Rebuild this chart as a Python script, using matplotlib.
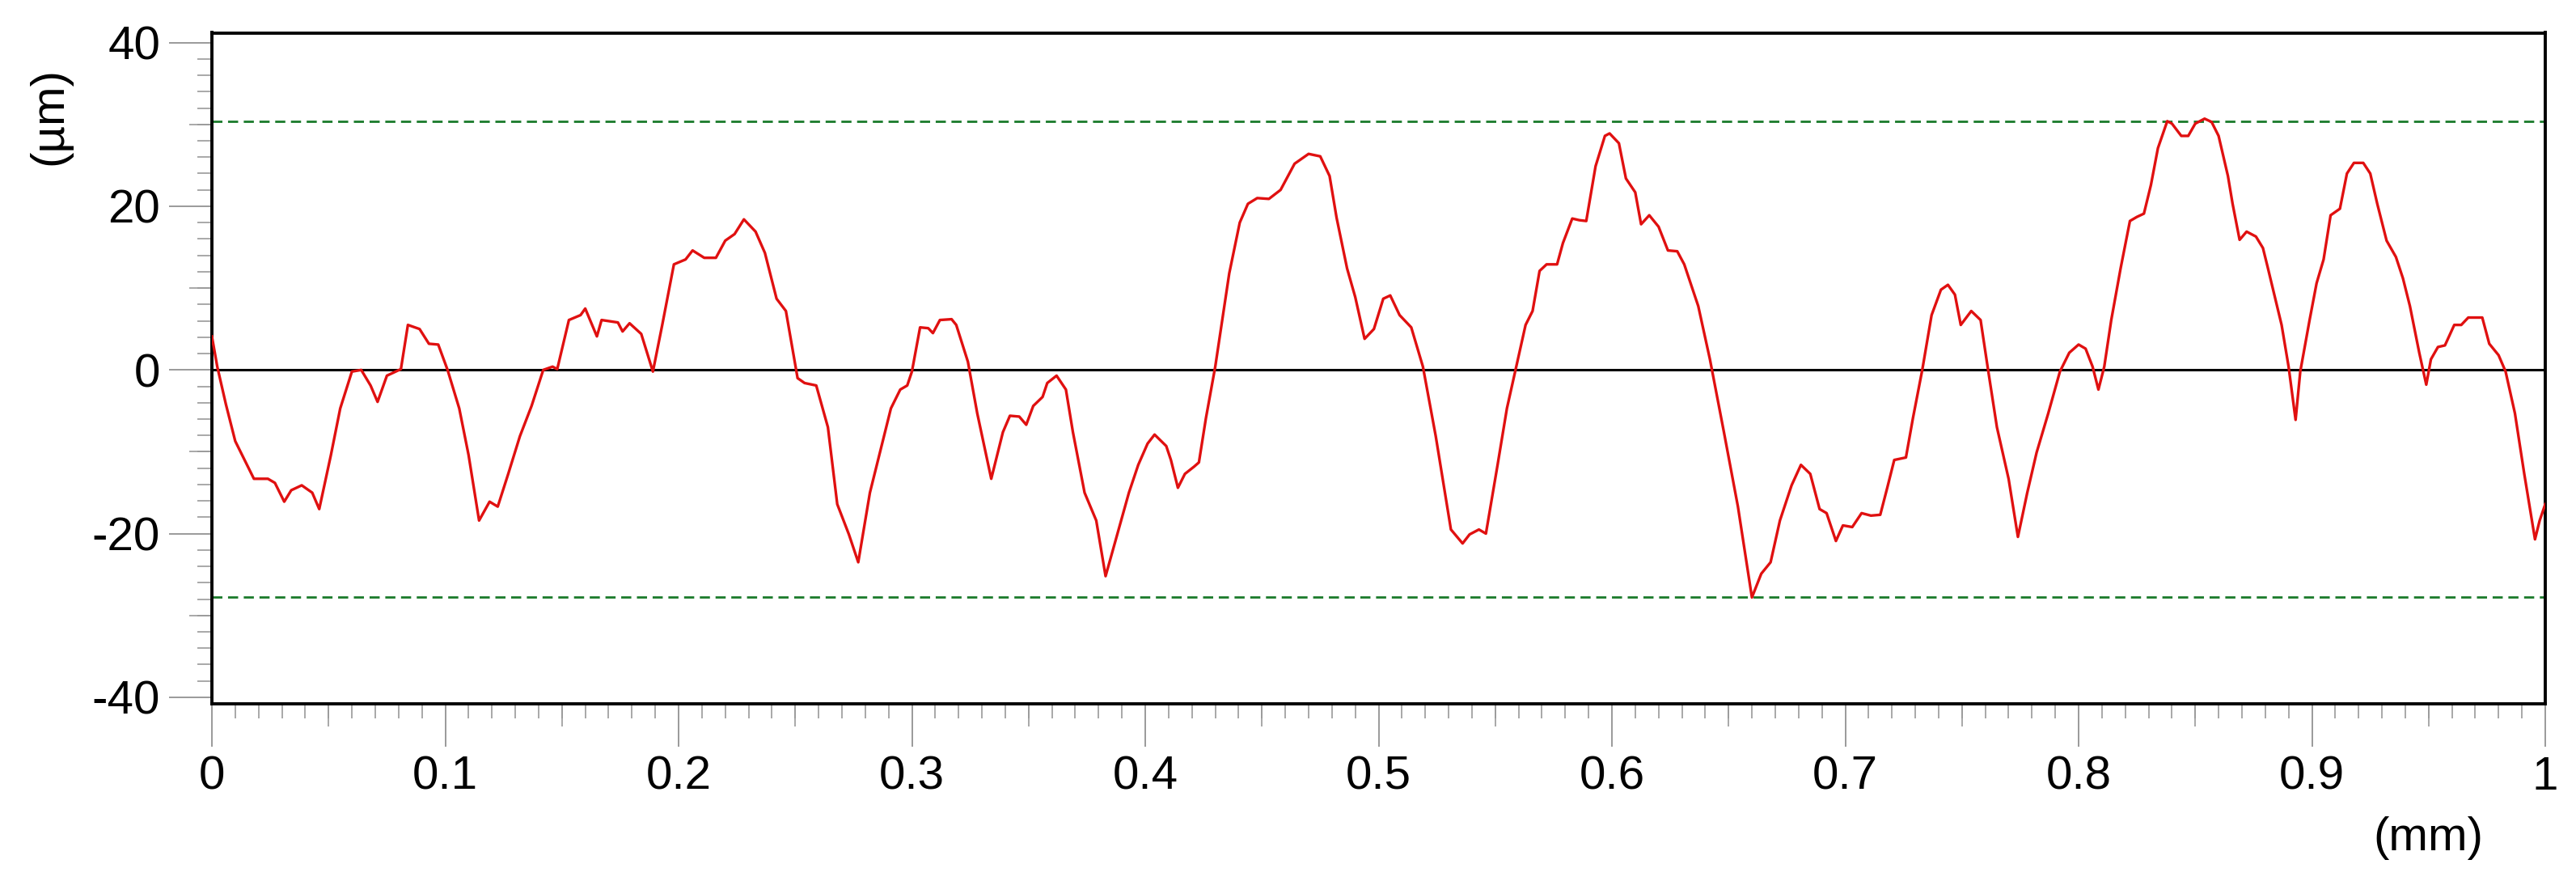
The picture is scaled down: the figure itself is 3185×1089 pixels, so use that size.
import matplotlib
matplotlib.use("Agg")
import matplotlib.pyplot as plt
import numpy as np

plt.rcParams['font.family'] = ['Liberation Sans', 'DejaVu Sans']

# Profile data (mm, µm)
x_mm = [0, 0.0023, 0.006, 0.010, 0.014, 0.018, 0.024, 0.027, 0.031, 0.034, 0.0385, 0.043, 0.046, 0.051, 0.055,
        0.060, 0.064, 0.068, 0.071, 0.075, 0.081, 0.084, 0.089, 0.093, 0.097, 0.101, 0.106, 0.110, 0.1145, 0.119,
        0.1225, 0.127, 0.132, 0.137, 0.142, 0.146, 0.148, 0.153, 0.158, 0.160, 0.165, 0.167, 0.174, 0.176, 0.179,
        0.184, 0.189, 0.193, 0.198, 0.203, 0.206, 0.211, 0.216, 0.220, 0.224, 0.228, 0.233, 0.237, 0.242, 0.246,
        0.251, 0.254, 0.259, 0.264, 0.268, 0.273, 0.277, 0.282, 0.287, 0.291, 0.295, 0.298, 0.300, 0.3035, 0.307,
        0.309, 0.312, 0.317, 0.319, 0.324, 0.328, 0.334, 0.339, 0.342, 0.346, 0.349, 0.352, 0.356, 0.358, 0.362,
        0.366, 0.369, 0.374, 0.379, 0.383, 0.388, 0.393, 0.397, 0.401, 0.404, 0.409, 0.411, 0.414, 0.417, 0.421,
        0.423, 0.426, 0.430, 0.436, 0.4405, 0.444, 0.448, 0.453, 0.458, 0.464, 0.470, 0.475, 0.479, 0.482, 0.4865,
        0.490, 0.494, 0.498, 0.502, 0.505, 0.509, 0.514, 0.519, 0.5245, 0.531, 0.536, 0.539, 0.543, 0.546, 0.551,
        0.555, 0.559, 0.563, 0.566, 0.569, 0.572, 0.5765, 0.579, 0.583, 0.586, 0.589, 0.593, 0.597, 0.599, 0.603,
        0.606, 0.610, 0.6125, 0.616, 0.620, 0.624, 0.628, 0.631, 0.637, 0.642, 0.648, 0.654, 0.660, 0.664, 0.668,
        0.672, 0.677, 0.681, 0.685, 0.689, 0.692, 0.696, 0.699, 0.703, 0.707, 0.711, 0.715, 0.718, 0.721, 0.726,
        0.729, 0.733, 0.737, 0.741, 0.744, 0.747, 0.7495, 0.754, 0.758, 0.761, 0.765, 0.770, 0.774, 0.778, 0.782,
        0.787, 0.792, 0.796, 0.800, 0.803, 0.806, 0.8085, 0.811, 0.814, 0.818, 0.822, 0.825, 0.828, 0.831, 0.834,
        0.838, 0.840, 0.844, 0.847, 0.850, 0.854, 0.857, 0.860, 0.864, 0.866, 0.869, 0.872, 0.876, 0.879, 0.881,
        0.887, 0.890, 0.893, 0.895, 0.899, 0.902, 0.905, 0.908, 0.912, 0.915, 0.918, 0.922, 0.925, 0.928, 0.932,
        0.936, 0.939, 0.942, 0.946, 0.949, 0.951, 0.954, 0.957, 0.961, 0.964, 0.967, 0.973, 0.976, 0.980, 0.983,
        0.987, 0.991, 0.9956, 0.9976, 1.0]
z_um = [4.1, 0.4, -4.2, -8.7, -11.0, -13.3, -13.3, -13.8, -16.1, -14.7, -14.1, -15.0, -17.0, -10.4, -4.7,
        -0.2, 0.0, -1.9, -3.9, -0.7, 0.1, 5.5, 5.0, 3.2, 3.1, 0.0, -4.7, -10.4, -18.4, -16.1,
        -16.7, -12.7, -8.1, -4.4, 0.0, 0.4, 0.1, 6.1, 6.7, 7.5, 4.1, 6.1, 5.8, 4.7, 5.7,
        4.4, -0.2, 5.5, 12.9, 13.5, 14.6, 13.7, 13.7, 15.8, 16.6, 18.4, 16.9, 14.3, 8.7, 7.2,
        -1.0, -1.6, -1.9, -7.0, -16.4, -20.1, -23.5, -15.0, -9.3, -4.7, -2.4, -1.9, -0.2, 5.2, 5.1,
        4.5, 6.1, 6.2, 5.5, 1.0, -5.3, -13.3, -7.6, -5.6, -5.7, -6.7, -4.4, -3.3, -1.6, -0.7,
        -2.4, -7.6, -15.0, -18.4, -25.2, -20.1, -15.0, -11.6, -9.0, -7.9, -9.3, -11.0, -14.4, -12.7, -11.8,
        -11.3, -5.9, 0.4, 11.8, 18.0, 20.3, 21.0, 20.9, 22.0, 25.2, 26.4, 26.1, 23.7, 18.6, 12.4,
        8.9, 3.8, 5.0, 8.7, 9.1, 6.7, 5.2, 0.4, -8.1, -19.5, -21.2, -20.1, -19.5, -20.0, -11.6,
        -4.7, 0.4, 5.5, 7.2, 12.1, 12.9, 12.9, 15.5, 18.5, 18.3, 18.2, 24.9, 28.6, 28.9, 27.7,
        23.4, 21.7, 17.8, 18.9, 17.5, 14.6, 14.5, 12.9, 7.8, 1.3, -7.6, -16.7, -27.8, -24.9, -23.5,
        -18.4, -14.1, -11.6, -12.7, -17.0, -17.5, -20.9, -19.0, -19.2, -17.5, -17.8, -17.7, -14.4, -11.0, -10.7,
        -5.9, 0.0, 6.7, 9.8, 10.4, 9.2, 5.5, 7.2, 6.1, 0.4, -7.0, -13.3, -20.4, -15.0, -10.1,
        -5.3, -0.2, 2.1, 3.1, 2.6, 0.4, -2.4, 0.4, 6.1, 12.4, 18.2, 18.7, 19.1, 22.6, 27.1,
        30.4, 30.1, 28.6, 28.6, 30.1, 30.7, 30.3, 28.6, 23.7, 20.3, 15.9, 16.9, 16.3, 14.9, 12.6,
        5.5, 0.4, -6.1, -0.2, 6.1, 10.6, 13.5, 18.9, 19.7, 24.0, 25.3, 25.3, 24.0, 20.3, 15.8,
        13.8, 11.2, 7.8, 2.1, -1.8, 1.3, 2.8, 3.0, 5.5, 5.5, 6.4, 6.4, 3.2, 1.8, -0.2,
        -5.3, -12.7, -20.7, -18.4, -16.4]

upper_limit = 30.4
lower_limit = -27.8

x_major = [0, 0.1, 0.2, 0.3, 0.4, 0.5, 0.6, 0.7, 0.8, 0.9, 1.0]
x_major_labels = ['0', '0.1', '0.2', '0.3', '0.4', '0.5', '0.6', '0.7', '0.8', '0.9', '1']
y_major = [-40, -20, 0, 20, 40]
y_major_labels = ['-40', '-20', '0', '20', '40']

W, H = 3185, 1089
fig = plt.figure(figsize=(W / 100, H / 100), dpi=100)
ax = fig.add_axes([262 / W, 1 - 870 / H, 2885 / W, 829.5 / H])

ax.plot(x_mm, z_um, color='#e01010', lw=2.4, zorder=4, solid_joinstyle='round')
ax.axhline(0, color='black', lw=2.2, zorder=3)
ax.axhline(upper_limit, color='#1a7a2a', lw=2.0, ls=(0, (4.5, 2.5)), zorder=2)
ax.axhline(lower_limit, color='#1a7a2a', lw=2.0, ls=(0, (4.5, 2.5)), zorder=2)

ax.set_xlim(0, 1)
ax.set_ylim(-40.8, 41.2)

for s in ax.spines.values():
    s.set_linewidth(2.8)
    s.set_color('black')

tick_col = '#9a9a9a'
ax.set_xticks(x_major)
ax.set_xticklabels(x_major_labels)
ax.set_yticks(y_major)
ax.set_yticklabels(y_major_labels)
ax.set_xticks(np.arange(0, 1.0001, 0.01), minor=True)
ax.set_yticks(np.arange(-40, 40.001, 2), minor=True)
ax.tick_params(which='major', length=38, width=1.4, color=tick_col, labelsize=42, pad=8, direction='out')
ax.tick_params(which='minor', length=13, width=1.2, color=tick_col, direction='out')

# medium ticks
secx = ax.secondary_xaxis('bottom')
secx.set_xticks(np.arange(0.05, 1.0, 0.1))
secx.tick_params(length=20, width=1.2, color=tick_col, labelbottom=False)
secx.spines['bottom'].set_visible(False)
secy = ax.secondary_yaxis('left')
secy.set_yticks([-30, -10, 10, 30])
secy.tick_params(length=20, width=1.2, color=tick_col, labelleft=False)
secy.spines['left'].set_visible(False)

fig.text(61 / W, 1 - 144 / H, '(µm)', rotation=90, ha='center', va='center', fontsize=42)
fig.text(3002 / W, 1 - 1036 / H, '(mm)', ha='center', va='center', fontsize=42)

fig.savefig('out.png', dpi=100, facecolor='white')
